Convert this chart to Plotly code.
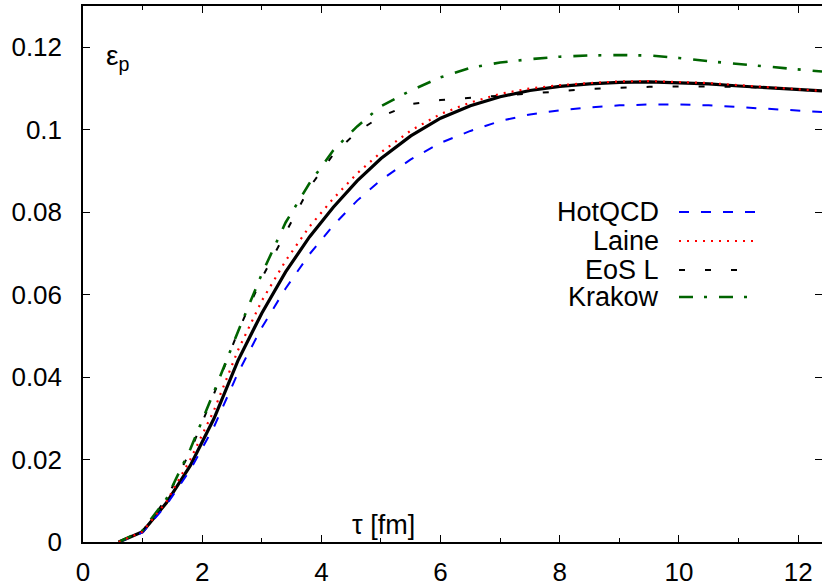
import plotly.graph_objects as go

# ---------------- data ----------------
tau = [0.6, 1.0, 1.4, 1.8, 2.2, 2.6, 3.0, 3.4, 3.8, 4.2, 4.6, 5.0, 5.5, 6.0, 6.5,
       7.0, 7.5, 8.0, 8.5, 9.0, 9.5, 10.0, 10.5, 11.0, 11.5, 12.0, 12.4]

eps_main = [0.0, 0.0025, 0.0095, 0.0185, 0.030, 0.044, 0.0555, 0.0655, 0.0740, 0.0812,
            0.0876, 0.0930, 0.0985, 0.1028, 0.1058, 0.1080, 0.1095, 0.1105, 0.1111,
            0.1115, 0.1116, 0.1114, 0.1111, 0.1106, 0.1102, 0.1097, 0.1094]

eps_hotqcd = [0.0, 0.0023, 0.0090, 0.0175, 0.028, 0.041, 0.052, 0.0615, 0.0698, 0.0768,
              0.0828, 0.0878, 0.0928, 0.0968, 0.0997, 0.1021, 0.1037, 0.1047, 0.1054,
              0.1059, 0.1061, 0.1061, 0.1059, 0.1055, 0.1051, 0.1047, 0.1043]

eps_laine = [0.0, 0.0025, 0.0098, 0.0200, 0.032, 0.0465, 0.0585, 0.0682, 0.0765, 0.0833,
             0.0894, 0.0945, 0.0998, 0.1038, 0.1066, 0.1087, 0.1100, 0.1108, 0.1113,
             0.1117, 0.1118, 0.1116, 0.1113, 0.1108, 0.1103, 0.1098, 0.1094]

eps_eosl = [0.0, 0.0027, 0.0105, 0.0220, 0.036, 0.051, 0.064, 0.075, 0.0860, 0.0940,
            0.0995, 0.1032, 0.1062, 0.1072, 0.1077, 0.1082, 0.1088, 0.1093, 0.1099,
            0.1102, 0.1104, 0.1105, 0.1105, 0.1104, 0.1101, 0.1097, 0.1094]

eps_krakow = [0.0, 0.0028, 0.0105, 0.0225, 0.0365, 0.051, 0.065, 0.0775, 0.0870, 0.0950,
              0.1008, 0.1057, 0.1095, 0.1127, 0.1150, 0.1163, 0.1171, 0.1177, 0.1180,
              0.1181, 0.1180, 0.1174, 0.1166, 0.1159, 0.1152, 0.1146, 0.1141]

x_ticks = [0, 2, 4, 6, 8, 10, 12]
x_ticktext = ["0", "2", "4", "6", "8", "10", "12"]
y_ticks = [0, 0.02, 0.04, 0.06, 0.08, 0.10, 0.12]
y_ticktext = ["0", "0.02", "0.04", "0.06", "0.08", "0.1", "0.12"]

legend_names = ["HotQCD", "Laine", "EoS L", "Krakow"]

# ---------------- styling ----------------
FONT = "Liberation Sans"
W, H = 822, 586
ML, MR, MT, MB = 83, 0, 6, 44
PW, PH = W - ML - MR, H - MT - MB


def px2paper(xp, yp):
    return (xp - ML) / PW, (H - MB - yp) / PH


styles = {
    "HotQCD": dict(color="#0000ff", width=2, dash="10px,12px"),
    "Laine": dict(color="#ff0000", width=2.2, dash="2px,6px"),
    "EoS L": dict(color="#000000", width=2, dash="6px,20px"),
    "Krakow": dict(color="#006400", width=2.6, dash="14px,11px,3px,12px"),
}
series = {"HotQCD": eps_hotqcd, "Laine": eps_laine, "EoS L": eps_eosl, "Krakow": eps_krakow}

fig = go.Figure()
fig.add_trace(go.Scatter(x=tau, y=eps_main, mode="lines",
                         line=dict(color="black", width=3.2), showlegend=False))
for name in ["HotQCD", "EoS L", "Krakow", "Laine"]:
    fig.add_trace(go.Scatter(x=tau, y=series[name], mode="lines",
                             line=styles[name], showlegend=False, name=name))
# empty trace to anchor the right-hand mirrored tick axis
fig.add_trace(go.Scatter(x=[None], y=[None], yaxis="y2", showlegend=False, mode="lines"))

fig.update_layout(
    width=W, height=H,
    margin=dict(l=ML, r=MR, t=MT, b=MB, autoexpand=False),
    paper_bgcolor="white", plot_bgcolor="white",
    font=dict(family=FONT, color="black", size=26),
    xaxis=dict(range=[0, 12.4], tickvals=x_ticks, ticktext=x_ticktext, automargin=False,
               ticks="inside", ticklen=7, tickwidth=1.3, tickcolor="black",
               minor=dict(dtick=1, tick0=0, ticks="inside", ticklen=4, tickwidth=1.3, tickcolor="black"),
               showline=True, linecolor="black", linewidth=1.5, mirror="ticks",
               showgrid=False, zeroline=False, tickfont=dict(size=26),
               ticklabelstandoff=6),
    yaxis=dict(range=[0, 0.13], tickvals=y_ticks, ticktext=y_ticktext, automargin=False,
               ticks="inside", ticklen=7, tickwidth=1.3, tickcolor="black",
               showline=True, linecolor="black", linewidth=1.5,
               showgrid=False, zeroline=False, tickfont=dict(size=26),
               ticklabelstandoff=14),
    yaxis2=dict(range=[0, 0.13], overlaying="y", side="right", tickvals=y_ticks, automargin=False,
                ticks="inside", ticklen=7, tickwidth=1.3, tickcolor="black",
                showticklabels=False, showline=False, showgrid=False, zeroline=False),
)

# axis labels inside the frame
lx, ly = px2paper(104, 57)
fig.add_annotation(x=lx, y=ly, xref="paper", yref="paper", text="ε<sub>p</sub>",
                   showarrow=False, xanchor="left", yanchor="middle", font=dict(size=28))
tx, ty = px2paper(383, 525)
fig.add_annotation(x=tx, y=ty, xref="paper", yref="paper", text="τ [fm]",
                   showarrow=False, xanchor="center", yanchor="middle", font=dict(size=27))

# gnuplot-style key: label right-aligned, line sample to the right
rows_y = [212, 241, 270, 297]
for name, yp in zip(legend_names, rows_y):
    tx, ty = px2paper(661, yp)
    fig.add_annotation(x=tx, y=ty, xref="paper", yref="paper", text=name,
                       showarrow=False, xanchor="right", yanchor="middle",
                       font=dict(size=27))
    x0, y0 = px2paper(679, yp)
    x1, _ = px2paper(757, yp)
    fig.add_shape(type="line", xref="paper", yref="paper", x0=x0, x1=x1, y0=y0, y1=y0,
                  line=styles[name])

fig.write_html("out.html", config={"displayModeBar": False},
               post_script="document.body.style.margin='0';document.body.style.overflow='hidden';")
